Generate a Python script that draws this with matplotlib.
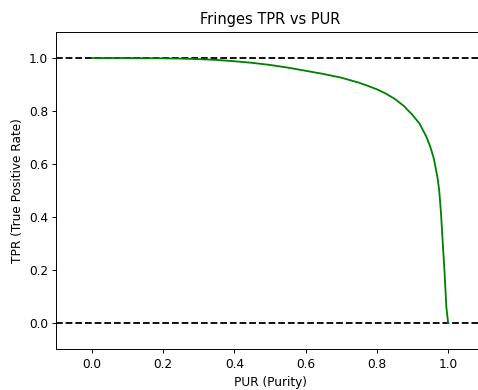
import matplotlib
matplotlib.use("Agg")
import matplotlib.pyplot as plt

pur = [0.0, 0.1, 0.2, 0.25, 0.3, 0.35, 0.4, 0.45, 0.5, 0.55, 0.6, 0.65, 0.7,
       0.75, 0.775, 0.8, 0.825, 0.85, 0.875, 0.9, 0.92, 0.94, 0.95, 0.96, 0.97,
       0.975, 0.98, 0.985, 0.99, 0.995, 1.0]
tpr = [1.0, 1.0, 0.999, 0.998, 0.996, 0.993, 0.988, 0.982, 0.974, 0.964, 0.952,
       0.940, 0.926, 0.907, 0.895, 0.882, 0.866, 0.846, 0.82, 0.785, 0.752, 0.70,
       0.665, 0.62, 0.55, 0.50, 0.414, 0.30, 0.19, 0.06, 0.0]
ref_levels = [0.0, 1.0]

DPI = 87.5
fig = plt.figure(figsize=(478 / DPI, 390 / DPI), dpi=DPI)
ax = fig.add_axes([0.118, 0.104, 0.894, 0.815])
for lv in ref_levels:
    ax.axhline(lv, color="black", linestyle="--", linewidth=1.5)
ax.plot(pur, tpr, color="green", linewidth=1.5)
ax.set_xlim(-0.1, 1.1)
ax.set_ylim(-0.1, 1.1)
ax.set_xticks([0.0, 0.2, 0.4, 0.6, 0.8, 1.0])
ax.set_yticks([0.0, 0.2, 0.4, 0.6, 0.8, 1.0])
ax.set_xlabel("PUR (Purity)")
ax.set_ylabel("TPR (True Positive Rate)")
ax.set_title("Fringes TPR vs PUR")
fig.savefig("out.png", dpi=DPI)
